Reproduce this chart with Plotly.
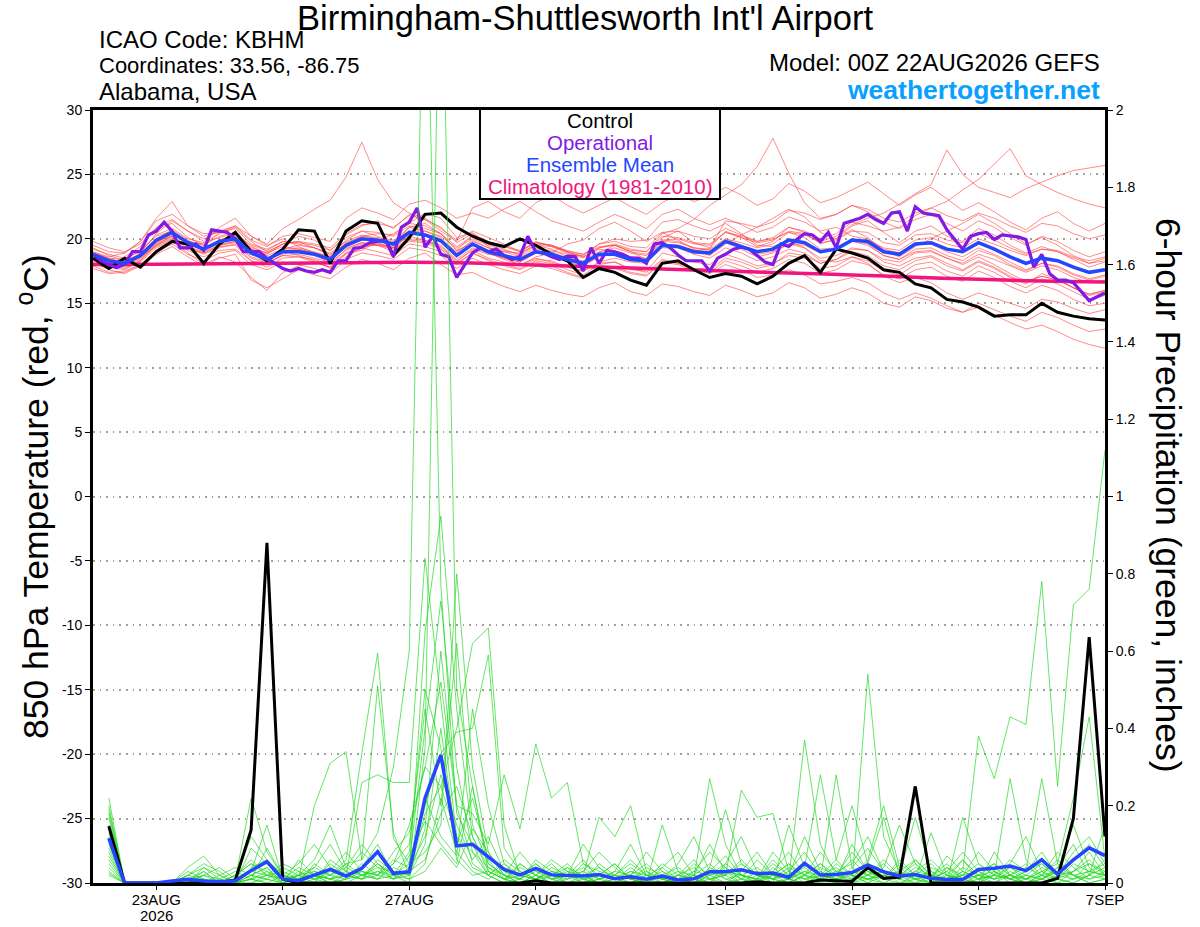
import pandas as pd
import plotly.graph_objects as go

# ---------------- DATA ----------------
START = "2026-08-22 00:00"
HOURS_6 = list(range(0, 385, 6))        # 0..384 h, temperature (65)
HOURS_P = list(range(6, 385, 6))        # 6..384 h, precipitation (64)
HOURS_3 = list(range(0, 385, 3))        # operational 3-hourly (129)
HOURS_CLIM = list(range(0, 385, 24))    # daily climatology (17)

TICK_DATES = ["2026-08-23", "2026-08-25", "2026-08-27", "2026-08-29",
              "2026-09-01", "2026-09-03", "2026-09-05", "2026-09-07"]
TICK_TEXT = ["23AUG", "25AUG", "27AUG", "29AUG", "1SEP", "3SEP", "5SEP", "7SEP"]
YEAR_LABEL = "2026"
TEMP_TICKS = [30, 25, 20, 15, 10, 5, 0, -5, -10, -15, -20, -25, -30]
PRECIP_TICKS = [0, 0.2, 0.4, 0.6, 0.8, 1, 1.2, 1.4, 1.6, 1.8, 2]
PRECIP_TEXT = ["0", "0.2", "0.4", "0.6", "0.8", "1", "1.2", "1.4", "1.6", "1.8", "2"]

control_t = [18.5, 17.7, 18.5, 17.8, 19.0, 19.8, 19.6, 18.1, 19.6, 20.5, 19.0, 18.3, 19.2,
             20.7, 20.6, 18.1, 20.6, 21.4, 21.2, 18.7, 20.1, 21.9, 22.0, 20.9, 20.2, 19.7,
             19.4, 20.0, 19.5, 18.8, 18.3, 17.0, 17.7, 17.4, 16.8, 16.4, 18.1, 18.3, 17.6,
             17.0, 17.3, 17.1, 16.5, 17.1, 18.1, 18.7, 17.4, 19.2, 18.9, 18.5, 17.6, 17.4,
             16.5, 16.2, 15.3, 15.1, 14.7, 14.0, 14.1, 14.1, 15.0, 14.3, 14.0, 13.8, 13.7]

mean_t = [18.8, 18.3, 18.1, 18.7, 19.9, 20.5, 19.7, 19.2, 19.8, 20.0, 18.9, 18.4, 19.0,
          19.0, 18.8, 18.4, 19.5, 20.0, 19.9, 19.6, 20.5, 20.3, 19.85, 18.7, 19.6, 19.0,
          18.7, 18.4, 19.0, 18.8, 18.4, 18.1, 18.8, 18.8, 18.4, 18.3, 19.5, 19.4, 19.0,
          18.9, 19.8, 19.4, 19.0, 19.2, 19.9, 19.7, 19.0, 19.2, 19.9, 19.8, 19.0, 18.8,
          19.6, 19.7, 19.2, 19.0, 19.7, 19.2, 18.6, 18.1, 18.5, 18.3, 17.8, 17.4, 17.6]

operational_t = [18.8, 18.3, 18.0, 17.75, 18.05, 19.0, 19.0, 20.3, 20.6, 21.3, 20.6, 19.3, 19.3,
                 19.6, 19.1, 20.7, 20.6, 20.5, 20.0, 19.0, 19.0, 19.0, 18.5, 18.1, 17.7, 17.5,
                 17.7, 17.5, 17.4, 17.6, 17.4, 18.3, 18.3, 19.25, 19.35, 19.7, 19.8, 19.9, 18.6,
                 20.9, 21.3, 22.4, 19.35, 20.2, 18.8, 18.6, 17.0, 18.0, 18.9, 19.3, 19.0, 19.2,
                 18.7, 18.4, 18.65, 20.2, 19.0, 18.9, 18.6, 18.4, 18.65, 18.6, 17.5, 19.3, 18.1,
                 19.1, 19.0, 18.8, 18.5, 18.5, 18.1, 19.6, 19.7, 19.3, 18.75, 18.3, 18.3, 18.3,
                 17.5, 18.5, 18.8, 19.2, 19.35, 19.2, 18.7, 18.2, 18.0, 19.6, 19.4, 19.95, 20.4,
                 20.3, 19.8, 20.5, 19.3, 21.2, 21.4, 21.6, 21.9, 21.5, 21.2, 22.0, 22.1, 20.6,
                 22.5, 22.0, 21.9, 21.8, 20.7, 19.9, 19.2, 20.2, 20.4, 20.5, 19.95, 20.3, 20.25,
                 20.15, 19.95, 17.8, 18.8, 17.3, 16.8, 16.8, 16.6, 15.9, 15.2, 15.5, 15.8]

climatology_t = [18.0, 18.03, 18.07, 18.1, 18.14, 18.18, 18.12, 17.97, 17.82, 17.66, 17.5,
                 17.35, 17.2, 17.02, 16.86, 16.72, 16.65]

member_t01 = [18.5,18.0,18.6,19.4,20.8,21.2,20.1,19.5, 20.4,20.9,19.8,19.0,19.6,20.2,19.9,19.1, 20.3,21.0,21.4,20.8,21.9,21.5,20.6,19.8, 22.4,22.9,22.1,21.6,22.8,23.4,22.6,22.0, 22.6,23.2,22.5,21.9,22.8,23.5,22.9,23.3, 24.0,23.4,22.6,23.1,24.3,23.7,22.8,23.2, 23.8,24.4,23.5,22.6,23.4,24.0,23.1,22.2, 22.8,22.1,21.3,20.7,21.6,22.1,21.2,20.6, 21.2]
member_t02 = [18.2,17.6,17.3,17.9,18.8,19.4,18.6,17.9, 18.5,18.8,16.8,16.2,16.9,17.6,17.2,16.9, 17.8,18.4,18.1,17.6,18.5,18.9,18.0,17.2, 17.4,16.8,16.3,15.9,16.4,16.0,15.7,15.5, 16.2,16.6,15.9,15.6,16.5,16.3,15.9,15.6, 16.4,16.0,15.5,15.8,16.6,16.2,15.4,15.7, 16.2,15.8,15.0,14.7,15.5,15.2,14.6,14.3, 15.0,14.5,14.0,13.6,14.3,13.9,13.3,12.8, 13.0]
member_t03 = [19.0,18.6,18.9,19.8,21.6,22.9,21.0,20.2, 20.6,20.3,19.2,18.8,19.6,19.8,19.3,18.7, 19.9,20.6,20.2,19.5,20.9,21.2,20.4,19.1, 20.3,19.6,19.2,18.7,19.5,19.2,18.6,18.0, 18.9,19.5,19.0,18.4,20.1,20.6,19.7,19.3, 20.6,20.1,19.4,19.8,20.9,20.5,19.6,20.0, 21.0,21.4,20.5,19.7,20.6,21.0,20.2,19.8, 20.8,20.3,19.5,18.9,19.4,19.0,18.4,17.8, 18.2]
member_t04 = [18.6,18.0,17.8,18.2,19.3,19.8,18.9,18.0, 18.6,18.2,17.0,16.0,17.4,17.9,18.2,17.8, 18.8,19.3,19.0,18.7,19.6,19.4,19.0,18.0, 18.9,18.4,18.0,17.7,18.3,18.1,17.6,17.2, 18.0,18.2,17.6,17.5,18.9,18.6,18.2,18.0, 18.8,18.4,17.9,18.1,18.7,18.5,17.7,17.9, 18.6,18.3,17.5,17.2,18.0,18.2,17.5,17.1, 17.9,17.4,16.7,16.2,16.9,16.5,15.9,15.3, 15.6]
member_t05 = [18.4,18.1,18.3,18.6,19.5,20.3,19.8,19.6, 20.5,21.0,20.2,19.6,20.8,21.5,22.3,23.0, 24.8,27.5,24.6,22.8,22.0,21.6,20.8,19.9, 20.6,20.1,19.6,19.0,19.8,19.4,18.9,18.5, 19.2,19.0,18.6,18.4,19.6,19.3,18.8,18.5, 19.3,18.9,18.3,18.6,19.2,18.9,18.1,18.4, 19.0,18.7,17.9,17.6,18.3,18.6,17.9,17.5, 18.2,17.7,17.0,16.5,17.3,16.9,16.2,15.7, 16.0]
member_t06 = [19.2,18.8,18.5,19.0,20.3,20.8,20.0,19.7, 20.1,20.4,19.5,19.1,19.8,19.6,19.3,18.9, 19.8,20.3,20.0,19.8,20.9,20.6,20.2,19.3, 20.0,19.5,19.1,18.8,19.6,19.5,19.0,18.6, 19.3,19.6,19.2,19.0,20.4,20.8,21.5,22.6, 23.4,24.2,25.6,27.8,25.1,22.8,21.6,21.9, 22.6,22.1,21.3,20.8,21.5,21.9,21.2,20.6, 21.4,20.9,20.1,19.5,20.2,19.8,19.1,18.6, 19.0]
member_t07 = [18.9,18.4,18.2,18.8,20.0,20.7,19.9,19.3, 19.9,20.3,19.2,18.7,19.2,19.3,19.0,18.6, 19.7,20.2,20.1,19.9,20.6,20.6,20.1,18.9, 19.9,19.3,19.0,18.6,19.3,19.0,18.5,18.3, 19.0,19.3,18.9,18.7,19.9,20.0,19.6,19.5, 20.5,20.2,19.8,20.1,20.9,20.6,20.0,20.4, 21.3,21.0,20.6,20.9,21.8,22.4,22.9,23.8, 24.6,25.8,27.0,24.9,24.2,23.6,23.1,22.7, 22.4]
member_t08 = [18.0,17.8,17.6,18.3,19.5,20.0,19.3,18.8, 19.3,19.6,18.5,18.1,18.7,18.6,18.4,18.0, 19.2,19.7,19.6,19.3,20.0,19.9,19.5,18.4, 19.3,18.9,18.5,18.2,18.9,18.7,18.2,17.9, 18.6,18.9,18.5,18.4,19.6,19.5,19.1,19.0, 20.0,19.7,19.3,19.6,20.5,20.3,19.8,20.2, 21.1,21.6,22.0,22.7,23.5,24.2,26.9,25.0, 24.0,23.6,23.2,23.9,24.4,24.9,25.3,25.5, 25.7]
member_t09 = [18.7,18.2,17.9,18.4,19.6,20.2,19.4,19.0, 19.5,19.7,18.6,18.2,18.7,18.8,18.5,18.2, 19.1,19.6,19.5,19.2,19.9,19.8,19.4,18.3, 19.1,18.5,18.2,17.9,18.4,18.3,17.8,17.5, 18.1,18.2,17.7,17.4,18.4,18.1,17.7,17.3, 18.0,17.6,17.0,17.2,17.6,17.2,16.5,16.7, 17.0,16.6,15.8,15.3,15.8,15.4,14.8,14.3, 14.7,14.1,13.5,13.0,13.3,12.8,12.2,11.8, 11.5]
member_t10 = [19.5,19.0,18.9,19.8,21.4,21.9,21.0,20.4, 20.5,20.8,19.6,19.2,19.8,19.7,19.5,19.1, 20.1,20.6,20.5,20.2,21.0,20.8,20.4,19.4, 20.2,19.7,19.4,19.1,19.7,19.5,19.1,18.8, 19.4,19.5,19.1,19.0,20.2,20.1,19.7,19.6, 20.5,20.1,19.7,19.9,20.6,20.4,19.7,19.9, 20.6,20.5,19.7,19.5,20.3,20.4,19.9,19.7, 20.4,19.9,19.3,18.8,19.2,19.0,18.5,18.1, 18.3]
member_t11 = [17.9,17.4,17.5,18.0,19.0,19.6,18.8,18.3, 18.9,19.1,18.0,17.6,18.2,18.0,17.7,17.3, 18.4,18.9,18.7,18.4,19.3,19.1,18.7,17.7, 18.5,18.0,17.6,17.3,17.9,17.7,17.3,16.9, 17.6,17.7,17.3,17.1,18.2,18.0,17.5,17.4, 18.3,17.9,17.4,17.7,18.4,18.1,17.3,17.6, 18.3,18.0,17.2,16.9,17.6,17.8,17.1,16.7, 17.5,17.0,16.3,15.8,16.4,16.0,15.3,14.8, 15.0]
member_t12 = [18.3,17.9,18.2,18.9,20.4,21.4,20.6,19.8, 20.9,21.6,20.2,19.5,20.0,19.4,18.9,18.0, 18.9,19.1,19.8,20.4,21.2,22.0,21.6,20.1, 20.5,19.4,18.6,17.9,18.6,18.9,19.6,19.9, 20.8,21.3,20.6,19.8,20.5,19.9,19.2,18.7, 19.6,20.3,20.9,21.6,22.3,21.7,20.5,20.0, 20.7,20.1,19.1,18.6,19.4,20.0,20.6,21.2, 21.9,21.2,20.4,19.6,20.1,19.5,18.7,18.1, 18.5]
member_t13 = [19.3,18.7,18.3,18.8,19.8,20.2,19.4,18.9, 19.4,19.5,18.3,17.8,18.5,18.6,18.2,17.8, 18.9,19.5,19.5,19.3,20.3,20.3,19.9,19.0, 19.8,19.3,19.0,18.9,19.5,19.4,19.0,18.8, 19.6,19.8,19.4,19.3,20.5,20.6,20.2,20.0, 20.8,20.3,19.8,20.0,20.5,20.1,19.2,19.3, 19.9,19.6,18.7,18.4,19.0,19.1,18.5,18.0, 18.6,18.0,17.3,16.7,17.1,16.8,16.2,15.6, 15.9]
member_t14 = [18.1,17.7,17.9,18.5,19.7,20.4,19.8,19.5, 20.2,20.5,19.4,18.9,19.4,19.2,18.9,18.6, 19.6,20.2,20.4,20.3,21.2,21.0,20.4,19.1, 19.6,18.9,18.4,18.0,18.5,18.2,17.8,17.5, 18.2,18.5,18.2,18.1,19.3,19.3,18.9,18.8, 19.7,19.2,18.6,18.9,19.6,19.5,18.9,19.2, 19.9,19.9,19.3,19.1,19.9,20.1,19.6,19.3, 20.0,19.6,19.1,18.7,19.2,19.1,18.6,18.3, 18.6]
member_t15 = [19.8,19.3,19.0,19.6,20.9,21.5,20.6,20.0, 20.6,21.0,19.9,19.4,20.2,20.4,20.1,19.8, 21.6,22.4,22.0,21.5,22.7,23.0,22.4,21.6, 22.0,21.6,22.3,22.9,22.1,21.4,21.0,20.6, 21.3,21.9,21.4,20.8,21.9,22.3,21.6,21.1, 21.6,21.1,20.5,20.9,21.7,21.3,20.6,20.9, 20.2,20.0,19.2,18.9,19.6,19.6,19.0,18.6, 19.3,18.8,18.2,17.6,18.1,17.8,17.2,16.8, 17.1]
member_t16 = [18.6,18.3,18.0,18.6,19.4,19.9,19.1,18.6, 19.1,19.2,18.3,18.0,18.8,19.1,18.9,18.4, 19.3,19.7,19.5,19.0,19.8,19.7,19.2,18.1, 18.9,18.3,17.9,17.6,18.2,17.9,17.4,17.0, 17.7,17.8,17.4,17.2,18.3,18.1,17.7,17.6, 18.5,18.2,17.7,18.0,18.9,18.7,18.1,18.4, 19.2,19.1,18.4,18.2,18.9,19.0,18.5,18.1, 18.8,18.4,17.9,17.4,17.9,17.6,17.0,16.6, 16.8]
member_t17 = [18.4,17.9,17.7,18.3,19.5,20.1,19.5,19.2, 19.9,20.2,19.1,18.5,19.1,18.7,18.3,17.7, 18.6,19.3,19.6,19.4,20.2,19.9,19.3,18.2, 19.2,18.8,18.6,18.4,19.2,19.1,18.8,18.7, 19.6,20.0,19.8,19.9,21.3,21.5,21.0,20.6, 21.2,20.4,19.5,19.4,19.9,19.3,18.3,18.2, 18.6,18.1,17.1,16.6,17.0,16.6,15.8,15.3, 15.8,15.4,15.0,14.6,15.3,15.1,14.6,14.2, 14.5]
member_t18 = [19.0,18.5,18.4,19.1,20.2,20.6,19.7,19.1, 19.6,19.8,18.8,18.5,19.2,19.5,19.3,18.8, 19.6,20.0,19.7,19.3,20.4,20.4,20.0,18.8, 19.5,18.9,18.5,18.2,18.9,18.8,18.4,18.1, 18.7,18.7,18.3,18.2,19.4,19.4,19.1,19.2, 21.4,21.2,20.9,21.3,22.2,22.0,21.5,21.9, 22.6,22.3,21.6,21.3,22.0,22.4,21.8,21.4, 22.0,21.6,21.0,20.5,21.2,21.0,20.4,20.0, 20.3]
member_t19 = [17.7,17.3,17.4,18.0,19.1,19.8,19.2,18.9, 19.5,19.8,18.8,18.4,19.1,19.2,18.9,18.6, 19.5,19.9,19.8,19.6,20.4,20.2,19.8,18.8, 19.5,19.0,18.6,18.3,18.9,18.7,18.3,18.0, 18.7,18.9,18.6,18.5,19.8,19.7,19.3,19.2, 20.0,19.5,19.0,19.3,20.0,19.7,19.0,19.2, 19.8,19.5,18.7,18.4,19.2,19.3,18.7,18.3, 19.1,18.7,18.0,17.5,18.1,17.9,17.3,16.9, 17.2]
member_t20 = [18.9,18.5,18.1,18.6,19.7,20.4,19.6,19.1, 19.9,20.3,19.3,18.9,19.6,19.8,19.6,19.3, 20.4,21.1,21.2,20.9,21.8,21.5,20.9,19.7, 20.4,19.8,19.4,19.0,19.7,19.5,19.0,18.6, 19.3,19.5,19.0,18.8,19.9,19.8,19.3,19.1, 19.8,19.4,18.8,19.0,19.6,19.3,18.5,18.7, 19.3,19.1,18.2,17.9,18.5,18.7,18.1,17.6, 18.3,17.8,17.1,16.6,17.1,16.8,16.2,15.7, 16.0]

control_p = [0.147, 0, 0, 0, 0, 0, 0, 0, 0.008, 0.137, 0.88, 0.01, 0, 0, 0, 0,
             0, 0, 0, 0, 0, 0, 0, 0, 0, 0, 0, 0.006, 0, 0, 0, 0,
             0, 0, 0, 0, 0, 0, 0, 0, 0, 0.003, 0, 0, 0, 0.008, 0.006, 0.004,
             0.04, 0.012, 0.015, 0.25, 0, 0, 0, 0, 0, 0, 0, 0, 0.012, 0.167, 0.636, 0.12]

mean_p = [0.116, 0, 0, 0, 0.005, 0.01, 0.005, 0.003, 0.006, 0.032, 0.055, 0.01, 0.006, 0.021, 0.035, 0.018,
          0.038, 0.081, 0.025, 0.029, 0.22, 0.331, 0.096, 0.10, 0.068, 0.035, 0.021, 0.038, 0.021, 0.019, 0.018, 0.022,
          0.011, 0.016, 0.010, 0.018, 0.008, 0.011, 0.029, 0.029, 0.034, 0.024, 0.026, 0.015, 0.051, 0.021, 0.022, 0.027,
          0.047, 0.029, 0.018, 0.022, 0.012, 0.009, 0.009, 0.035, 0.038, 0.044, 0.032, 0.06, 0.023, 0.06, 0.091, 0.071]

member_p01 = [0.08,0,0,0,0,0,0,0, 0,0.02,0.04,0,0,0.02,0.01,0.05, 0.06,0.13,0.3,0.6,2.6,0.77,0.18,0.1, 0.02,0,0.05,0.02,0,0,0.01,0, 0,0.02,0,0,0.01,0,0.04,0.02, 0,0,0.02,0.05,0.01,0,0,0.03, 0.01,0,0,0.02,0.05,0.01,0,0, 0.03,0.01,0,0.02,0.06,0.02,0,0.01]
member_p02 = [0.2,0,0,0,0,0.04,0.07,0.02, 0,0.01,0.09,0.02,0,0,0.04,0.02, 0.01,0.05,0.02,0,0.35,2.6,0.5,0.25, 0.05,0.02,0,0.01,0.03,0,0,0.02, 0.05,0.01,0,0,0.02,0.06,0.01,0, 0,0.03,0.01,0,0.02,0.08,0.03,0, 0,0.02,0.01,0,0,0.04,0.02,0, 0,0.02,0.05,0.01,0,0.03,0.08,0.02]
member_p03 = [0.22,0,0,0,0,0,0.03,0, 0.02,0.06,0.02,0,0.03,0.01,0,0.02, 0.26,0.28,0.26,0.26,0.84,0.47,0.12,0.04, 0.02,0.05,0.01,0,0,0.02,0.06,0.01, 0,0,0.02,0.01,0,0,0.03,0.07, 0.02,0,0,0.01,0.37,0.1,0.02,0, 0.01,0.03,0,0,0.02,0.01,0.06,0.02, 0,0,0.01,0.03,0.01,0,0.02,0.04]
member_p04 = [0.18,0,0,0,0,0.03,0.01,0, 0,0.03,0.15,0.01,0,0.05,0.02,0.06, 0.335,0.595,0.115,0.05,0.4,0.73,0.3,0.08, 0.02,0,0.01,0.05,0.02,0,0,0.01, 0.03,0.1,0.02,0,0,0.01,0.27,0.1, 0.02,0.01,0,0,0.02,0.05,0.01,0, 0.54,0.12,0.03,0.01,0,0,0.01,0.02, 0.05,0.02,0,0.01,0.03,0.02,0,0.01]
member_p05 = [0.06,0,0,0,0,0,0.02,0.04, 0.01,0.22,0.08,0.02,0.01,0.2,0.31,0.34, 0.06,0.51,0.13,0.02,0.18,0.25,0.4,0.62, 0.66,0.15,0.02,0.01,0,0.04,0.02,0, 0,0.02,0.05,0.01,0,0,0.02,0.03, 0.01,0,0.04,0.01,0,0.02,0.06,0.02, 0,0,0.02,0.05,0.01,0,0.03,0.38, 0.27,0.43,0.41,0.78,0.25,0.72,0.76,1.12]
member_p06 = [0.04,0,0,0,0,0,0,0, 0,0.02,0.01,0,0.06,0.02,0,0.01, 0.03,0.02,0.08,0.13,0.3,0.52,0.2,0.18, 0.1,0.28,0.14,0.36,0.22,0.26,0.05,0.02, 0.01,0,0,0.15,0.03,0,0.01,0.02, 0.24,0.17,0.18,0.03,0,0.01,0.28,0.04, 0.02,0,0,0.01,0.13,0.02,0,0.01, 0.02,0.27,0.06,0.02,0,0.01,0.03,0.02]
member_p07 = [0.025,0,0,0,0,0.02,0.01,0, 0.02,0.05,0.03,0,0.02,0.06,0.15,0.04, 0.02,0.05,0.01,0.03,0.2,0.335,0.39,0.4, 0.59,0.09,0.03,0.01,0,0,0.02,0.17, 0.12,0.2,0.03,0,0.01,0,0.04,0.19, 0.05,0.02,0,0.15,0.04,0.28,0.06,0.2, 0.05,0.17,0.02,0.17,0.03,0,0.17,0.05, 0.02,0.01,0.03,0.27,0.05,0.22,0.43,0.06]
member_p08 = [0.1,0,0,0,0,0,0,0.01, 0,0.01,0,0,0.02,0.03,0.01,0, 0.02,0.04,0.01,0.07,0.16,0.1,0.05,0.25, 0.03,0.01,0,0.02,0.06,0.03,0,0, 0.02,0.01,0,0.04,0.08,0.02,0,0, 0.01,0.06,0.02,0,0.05,0.02,0.01,0.1, 0.03,0.01,0,0,0.04,0.02,0.06,0.01, 0,0.03,0.01,0,0.02,0.08,0.12,0.05]
member_p09 = [0.15,0,0,0,0,0.01,0,0, 0,0.09,0.05,0.01,0.02,0,0.06,0.03, 0.01,0.02,0.05,0.1,0.45,0.2,0.62,0.15, 0.05,0.02,0.08,0.03,0.01,0,0,0.05, 0.02,0,0.01,0.03,0,0.02,0.1,0.03, 0,0.01,0.05,0.02,0.12,0.03,0,0.01, 0.06,0.2,0.04,0.01,0,0.02,0.01,0, 0.08,0.02,0,0.01,0.04,0.1,0.02,0.15]
member_p10 = [0.05,0,0,0,0,0,0.04,0.02, 0,0,0.02,0.03,0.01,0.02,0,0.01, 0.05,0.02,0.06,0.04,0.12,0.28,0.15,0.06, 0.12,0.03,0.01,0.06,0.03,0.02,0.1,0.04, 0.01,0,0.02,0.01,0.05,0.12,0.03,0.01, 0,0.02,0.01,0.04,0.02,0,0.03,0.05, 0.12,0.03,0.01,0.06,0.02,0.01,0.02,0.08, 0.03,0,0.02,0.05,0.01,0.03,0.05,0.02]
member_p11 = [0.12,0,0,0,0,0,0,0, 0,0.04,0.06,0.02,0,0.01,0.03,0.08, 0.03,0.01,0.02,0.05,0.08,0.15,0.8,0.3, 0.08,0.02,0,0,0.02,0.05,0.01,0, 0.01,0.04,0.01,0,0.02,0.01,0,0.05, 0.12,0.03,0,0.01,0.03,0.01,0.05,0.02, 0,0.04,0.15,0.05,0.01,0.03,0,0.02, 0.01,0.05,0.12,0.03,0.01,0,0.02,0.06]
member_p12 = [0.03,0,0,0,0,0,0.02,0.01, 0.03,0.01,0,0.02,0.05,0.1,0.04,0.02, 0.01,0.06,0.03,0.02,0.1,0.4,0.1,0.22, 0.06,0.01,0.04,0.02,0,0.01,0.03,0.08, 0.04,0.01,0,0.02,0.01,0.05,0.02,0, 0.03,0.08,0.02,0.01,0,0.04,0.02,0.06, 0.02,0.01,0.05,0.02,0.01,0.07,0.03,0.01, 0.04,0.01,0,0.02,0.08,0.04,0.01,0.03]
member_p13 = [0.09,0,0,0,0,0.02,0.05,0.03, 0,0.02,0.04,0,0.01,0.04,0.02,0.05, 0.02,0.03,0.01,0.04,0.22,0.12,0.07,0.45, 0.2,0.05,0.02,0.01,0.04,0.02,0,0.01, 0.02,0.06,0.02,0.01,0,0.03,0.08,0.04, 0.01,0,0.03,0.08,0.02,0.01,0,0.04, 0.09,0.03,0.02,0,0.01,0.03,0.08,0.03, 0.01,0.04,0.02,0.01,0.03,0.15,0.04,0.01]
member_p14 = [0.07,0,0,0,0,0,0,0, 0,0,0.01,0.04,0.02,0.01,0.05,0.02, 0.04,0.1,0.02,0.03,0.06,0.18,0.25,0.12, 0.04,0.01,0.05,0.02,0.01,0.03,0.02,0.04, 0.01,0.02,0.08,0.03,0.01,0,0.02,0.05, 0.02,0.01,0.06,0.02,0.01,0.03,0.01,0, 0.02,0.05,0.01,0.03,0.06,0.02,0.01,0, 0.02,0.06,0.03,0.08,0.02,0.01,0.05,0.03]
member_p15 = [0.14,0,0,0,0,0.01,0.03,0, 0.01,0.03,0.02,0.01,0,0.02,0.01,0.03, 0.08,0.04,0.03,0.01,0.05,0.22,0.08,0.03, 0.01,0.04,0.02,0.05,0.01,0.02,0.04,0.01, 0.03,0.02,0.01,0.05,0.02,0.01,0.03,0.02, 0.05,0.02,0.01,0.03,0.08,0.02,0.01,0.03, 0.02,0.06,0.02,0.01,0.03,0.01,0.04,0.02, 0.01,0.02,0.04,0.02,0.01,0.05,0.03,0.02]
member_p16 = [0.19,0,0,0,0,0,0.01,0, 0,0.01,0.03,0.01,0.04,0.02,0.01,0.02, 0.01,0.03,0.02,0.08,0.5,0.35,0.06,0.02, 0.03,0.01,0,0.02,0.05,0.01,0.02,0, 0.01,0.03,0.01,0.02,0.04,0.01,0,0.03, 0.02,0.04,0.01,0,0.02,0.05,0.02,0.01, 0.03,0.01,0.06,0.02,0,0.01,0.02,0.05, 0.02,0.01,0.03,0.05,0.02,0.06,0.1,0.04]
member_p17 = [0.11,0,0,0,0,0,0,0.02, 0.04,0.02,0.01,0,0.01,0.03,0.02,0.01, 0.02,0.01,0.04,0.02,0.14,0.6,0.2,0.05, 0.02,0.06,0.03,0.01,0.02,0.04,0.01,0.02, 0.05,0.01,0.03,0.01,0.02,0.04,0.01,0.02, 0.06,0.02,0.01,0.02,0.04,0.01,0.03,0.02, 0.01,0.02,0.03,0.06,0.02,0.01,0.03,0.01, 0.02,0.04,0.01,0.03,0.05,0.02,0.01,0.02]
member_p18 = [0.02,0,0,0,0,0.02,0.04,0.01, 0,0.01,0.02,0.05,0.03,0.01,0.02,0.04, 0.1,0.05,0.02,0.01,0.03,0.09,0.04,0.14, 0.08,0.02,0.01,0.03,0.02,0.01,0.05,0.03, 0.02,0.05,0.02,0.01,0.03,0.02,0.05,0.01, 0.02,0.01,0.08,0.03,0.01,0.02,0.04,0.01, 0.02,0.03,0.01,0.04,0.02,0.05,0.01,0.03, 0.05,0.02,0.01,0.04,0.02,0.03,0.06,0.02]
member_p19 = [0.13,0,0,0,0,0,0,0, 0.02,0.05,0.02,0.01,0.02,0.04,0.1,0.03, 0.02,0.01,0.05,0.15,0.3,0.25,0.12,0.08, 0.04,0.02,0.01,0.04,0.01,0.02,0.03,0.01, 0.02,0.01,0.04,0.02,0.01,0.03,0.02,0.04, 0.01,0.03,0.02,0.05,0.02,0.01,0.02,0.08, 0.03,0.02,0.01,0.03,0.02,0.04,0.01,0.02, 0.03,0.01,0.02,0.01,0.04,0.02,0.03,0.05]
member_p20 = [0.17,0,0,0,0,0.01,0.02,0, 0.01,0.12,0.06,0.02,0.01,0.02,0.01,0.02, 0.03,0.02,0.01,0.02,0.65,0.95,0.45,0.12, 0.03,0.01,0.02,0.01,0.03,0.02,0.01,0.02, 0.01,0.03,0.02,0.04,0.01,0.02,0.01,0.03, 0.02,0.01,0.02,0.01,0.03,0.02,0.01,0.02, 0.01,0.02,0.03,0.01,0.02,0.01,0.02,0.03, 0.01,0.02,0.01,0.02,0.03,0.01,0.02,0.01]

members_t = [member_t01, member_t02, member_t03, member_t04, member_t05, member_t06, member_t07,
             member_t08, member_t09, member_t10, member_t11, member_t12, member_t13, member_t14,
             member_t15, member_t16, member_t17, member_t18, member_t19, member_t20]
members_p = [member_p01, member_p02, member_p03, member_p04, member_p05, member_p06, member_p07,
             member_p08, member_p09, member_p10, member_p11, member_p12, member_p13, member_p14,
             member_p15, member_p16, member_p17, member_p18, member_p19, member_p20]

for i, m in enumerate(members_t):
    assert len(m) == len(HOURS_6), ("t", i + 1, len(m))
for i, m in enumerate(members_p):
    assert len(m) == len(HOURS_P), ("p", i + 1, len(m))
assert len(operational_t) == len(HOURS_3), len(operational_t)

# ---------------- STYLE ----------------
W, H = 1200, 927
L, R, T, B = 93, 95, 110, 44
PW, PH = W - L - R, H - T - B
FONT = "Liberation Sans, Arial, Helvetica, sans-serif"
RED = "rgba(255,60,60,0.75)"
GREEN = "rgba(30,215,30,0.85)"
PURPLE = "#8419e6"
BLUE = "#2546ff"
PINK = "#f0157f"


def px(x):
    return (x - L) / PW


def py(y):
    return 1 - (y - T) / PH


t0 = pd.Timestamp(START)


def times(hours):
    return [t0 + pd.Timedelta(hours=h) for h in hours]


fig = go.Figure()

for m in members_t:
    fig.add_trace(go.Scatter(x=times(HOURS_6), y=m, mode="lines",
                             line=dict(color=RED, width=0.8), hoverinfo="skip"))
for m in members_p:
    fig.add_trace(go.Scatter(x=times(HOURS_P), y=m, mode="lines", yaxis="y2",
                             line=dict(color=GREEN, width=0.8), hoverinfo="skip"))

fig.add_trace(go.Scatter(x=times(HOURS_CLIM), y=climatology_t, mode="lines",
                         line=dict(color=PINK, width=3.5, shape="spline")))
fig.add_trace(go.Scatter(x=times(HOURS_6), y=control_t, mode="lines",
                         line=dict(color="black", width=3)))
fig.add_trace(go.Scatter(x=times(HOURS_3), y=operational_t, mode="lines",
                         line=dict(color=PURPLE, width=3.2)))
fig.add_trace(go.Scatter(x=times(HOURS_6), y=mean_t, mode="lines",
                         line=dict(color=BLUE, width=3.5)))
fig.add_trace(go.Scatter(x=times(HOURS_P), y=control_p, mode="lines", yaxis="y2",
                         line=dict(color="black", width=3)))
fig.add_trace(go.Scatter(x=times(HOURS_P), y=mean_p, mode="lines", yaxis="y2",
                         line=dict(color=BLUE, width=3.5)))

fig.update_layout(
    width=W, height=H,
    margin=dict(l=L, r=R, t=T, b=B, pad=0, autoexpand=False),
    paper_bgcolor="white", plot_bgcolor="white",
    showlegend=False,
    font=dict(family=FONT, color="black", size=14),
    xaxis=dict(
        range=[t0, t0 + pd.Timedelta(hours=384)], automargin=False,
        tickvals=[pd.Timestamp(d) for d in TICK_DATES], ticktext=TICK_TEXT,
        ticks="outside", ticklen=4, tickwidth=1, tickcolor="black",
        ticklabelstandoff=-3,
        tickfont=dict(size=15),
        showline=True, linecolor="black", linewidth=3, mirror=True,
        showgrid=False, zeroline=False,
    ),
    yaxis=dict(
        range=[-30, 30], automargin=False,
        tickvals=TEMP_TICKS, ticktext=[str(v) for v in TEMP_TICKS],
        ticks="outside", ticklen=5, tickwidth=1, tickcolor="black",
        tickfont=dict(size=14),
        showline=True, linecolor="black", linewidth=3, mirror=True,
        showgrid=True, gridcolor="#a0a0a0", gridwidth=1.6, griddash="1.6px,5px",
        zeroline=False,
    ),
    yaxis2=dict(
        range=[0, 2], overlaying="y", side="right", automargin=False,
        tickvals=PRECIP_TICKS, ticktext=PRECIP_TEXT,
        ticks="outside", ticklen=5, tickwidth=1, tickcolor="black",
        tickfont=dict(size=14),
        showline=True, linecolor="black", linewidth=3,
        showgrid=False, zeroline=False,
    ),
)

# legend box
fig.add_shape(type="rect", xref="paper", yref="paper",
              x0=px(480), x1=px(720), y0=py(199), y1=py(109),
              fillcolor="white", line=dict(color="black", width=2), layer="above")

ann = []


def text(s, x, y, size, color="black", xanchor="center", bold=False, angle=0):
    ann.append(dict(text=("<b>%s</b>" % s) if bold else s, x=px(x), y=py(y),
                    xref="paper", yref="paper", xanchor=xanchor, yanchor="middle",
                    showarrow=False, textangle=angle,
                    font=dict(family=FONT, size=size, color=color)))


text("Birmingham-Shuttlesworth Int'l Airport", 585, 18, 34.5)
text("ICAO Code: KBHM", 97, 40, 24, xanchor="left")
text("Coordinates: 33.56, -86.75", 97, 66, 22, xanchor="left")
text("Alabama, USA", 97, 92, 24, xanchor="left")
text("Model: 00Z 22AUG2026 GEFS", 1102, 62, 24, xanchor="right")
text("weathertogether.net", 1102, 90, 26.5, color="#0aa0ff", xanchor="right", bold=True)
text("Control", 600, 121, 20.5)
text("Operational", 600, 142, 20.5, color=PURPLE)
text("Ensemble Mean", 600, 164, 20.5, color=BLUE)
text("Climatology (1981-2010)", 600, 186, 20.5, color=PINK)
text("850 hPa Temperature (red, <sup>o</sup>C)", 33, 497, 35.5, angle=-90)
text("6-hour Precipitation (green, inches)", 1168, 495, 35.5, angle=90)

# year under the first date tick
ann.append(dict(text=YEAR_LABEL, x=pd.Timestamp(TICK_DATES[0]), xref="x",
                y=py(915), yref="paper", xanchor="center", yanchor="middle",
                showarrow=False, font=dict(family=FONT, size=15, color="black")))
fig.update_layout(annotations=ann)

fig.write_html("out.html", config={"displayModeBar": False},
               post_script="document.body.style.margin='0';"
                           "document.body.style.overflow='hidden';")
